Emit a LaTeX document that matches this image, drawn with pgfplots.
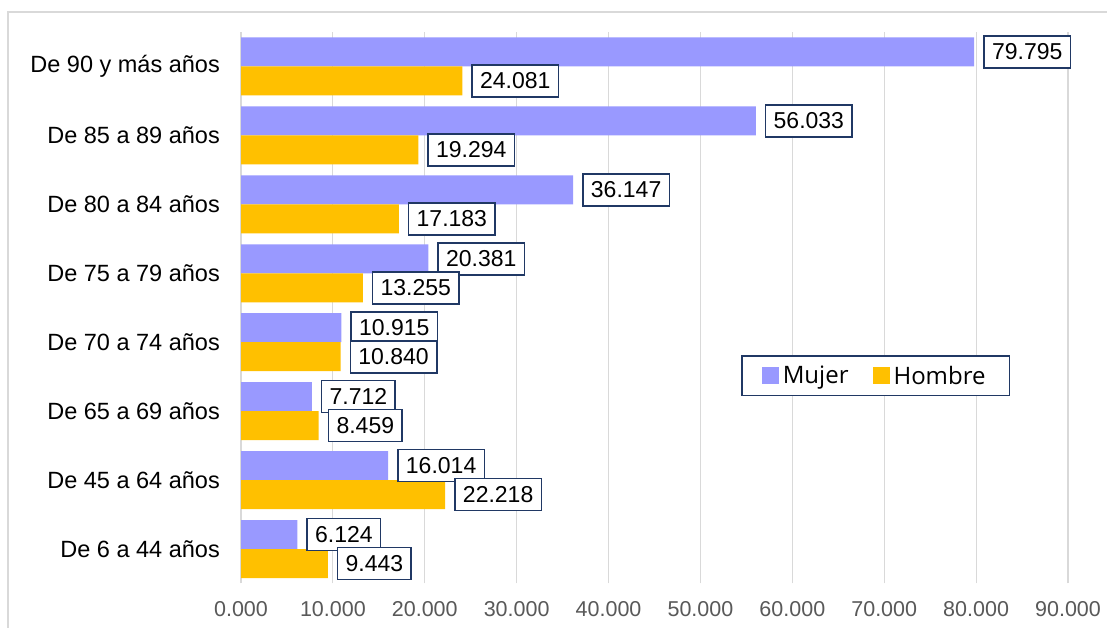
\documentclass[border=0pt]{standalone}
\usepackage{fontspec}
\setmainfont{Liberation Sans}
\newfontfamily\legfont{Open Sans}
\usepackage{pgfplots}
\pgfplotsset{compat=1.18}
\definecolor{mujer}{HTML}{9999FF}
\definecolor{hombre}{HTML}{FFC000}
\definecolor{navy}{HTML}{203864}
\definecolor{gridc}{HTML}{D9D9D9}
\definecolor{tickc}{HTML}{595959}

\begin{document}
\begin{tikzpicture}
\useasboundingbox (0,0) rectangle (1107pt,628pt);
\fill[white] (0,0) rectangle (1107pt,628pt);
\draw[gridc, line width=1.2pt] (8pt,-2pt) -- (8pt,616pt) -- (1110pt,616pt);
\begin{axis}[
  at={(241pt,44.5pt)}, anchor=south west,
  scale only axis, width=827pt, height=551.5pt,
  xbar, bar width=29pt,
  xmin=0, xmax=90, ymin=-0.5, ymax=7.5,
  xtick={0,10,...,90},
  ytick={0,...,7},
  yticklabels={De 6 a 44 años, De 45 a 64 años, De 65 a 69 años, De 70 a 74 años,
               De 75 a 79 años, De 80 a 84 años, De 85 a 89 años, De 90 y más años},
  xticklabel={\pgfmathprintnumber[fixed,fixed zerofill,precision=3]{\tick}},
  /pgf/number format/assume math mode=true,
  xticklabel style={font=\fontsize{21.5}{25}\selectfont, text=tickc, anchor=base, yshift=-33.5pt},
  yticklabel style={font=\fontsize{23.5}{28}\selectfont, text=black, anchor=east, inner sep=0pt, xshift=-21pt},
  major tick length=0pt,
  axis line style={draw=none},
  xmajorgrids, grid style={gridc, line width=1.2pt},
  clip=false,
  point meta=x,
  nodes near coords={\pgfmathprintnumber[fixed,fixed zerofill,precision=3]{\pgfplotspointmeta}},
  every node near coord/.append style={font=\fontsize{23}{27}\selectfont, text=black,
    draw=navy, fill=white, line width=1.6pt, anchor=west, xshift=9pt,
    inner xsep=8pt, inner ysep=0pt, minimum height=32pt},
  legend columns=2,
  legend style={at={(0.6046,0.4143)}, anchor=north west, draw=navy, line width=1.6pt,
    font=\legfont\fontsize{24}{28}\selectfont, inner xsep=20pt, inner ysep=6pt,
    nodes={inner sep=4pt},
    /tikz/every even column/.append style={column sep=20pt}},
  legend image code/.code={\fill[#1, draw=none] (0pt,-8.5pt) rectangle (17pt,8.5pt);},
]
\addplot[fill=mujer, draw=none, bar shift=14.5pt] coordinates {
  (6.124,0) (16.014,1) (7.712,2) (10.915,3) (20.381,4) (36.147,5) (56.033,6) (79.795,7)
};
\addplot[fill=hombre, draw=none, bar shift=-14.5pt] coordinates {
  (9.443,0) (22.218,1) (8.459,2) (10.840,3) (13.255,4) (17.183,5) (19.294,6) (24.081,7)
};
\legend{Mujer, Hombre}
\end{axis}
\end{tikzpicture}
\end{document}
